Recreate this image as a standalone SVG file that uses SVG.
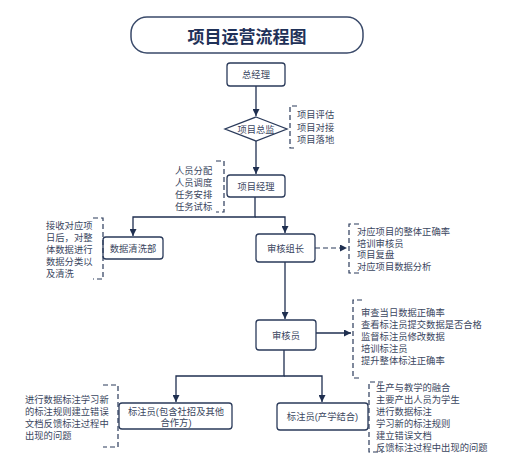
<svg xmlns="http://www.w3.org/2000/svg" width="530" height="471" viewBox="0 0 530 471">
<defs>
<marker id="ah" viewBox="0 0 10 10" refX="10" refY="5" markerWidth="7" markerHeight="7" markerUnits="userSpaceOnUse" orient="auto">
<path d="M0,0 L10,5 L0,10 z" fill="#1f2f50"/>
</marker>
</defs>
<style>
.box{fill:#fff;stroke:#2a3a5a;stroke-width:1.3}
.ln{fill:none;stroke:#1f2f50;stroke-width:1.3}
.dash{fill:none;stroke:#2a3a5a;stroke-width:1.2;stroke-dasharray:5,3}
.t{font-family:"Liberation Sans","Noto Sans CJK SC",sans-serif;font-size:9.3px;fill:#3a4660}
.c{text-anchor:middle}
.title{font-family:"Liberation Sans","Noto Sans CJK SC",sans-serif;font-size:17px;font-weight:bold;fill:#1f3158;text-anchor:middle}
</style>
<rect width="530" height="471" fill="#fff"/>
<g id="connectors">
<path class="ln" d="M256,86 V116" marker-end="url(#ah)"/>
<path class="ln" d="M256,141 V174" marker-end="url(#ah)"/>
<path class="ln" d="M255,197 V217 H133 V236" marker-end="url(#ah)"/>
<path class="ln" d="M255,217 H285 V233" marker-end="url(#ah)"/>
<path class="ln" d="M285,262 V319" marker-end="url(#ah)"/>
<path class="dash" d="M315,248 H347" marker-end="url(#ah)"/>
<path class="ln" d="M316,333 H351" marker-end="url(#ah)"/>
<path class="ln" d="M284,350 V376 H176 V402" marker-end="url(#ah)"/>
<path class="ln" d="M284,376 H322 V402" marker-end="url(#ah)"/>
</g>
<g id="title">
<rect x="131" y="17" width="232" height="36" rx="16" fill="#fff" stroke="#3a4a6a" stroke-width="1.5"/>
<text class="title" x="247" y="43">项目运营流程图</text>
</g>
<g id="zongjingli">
<rect class="box" x="227" y="63" width="58" height="23" rx="3"/>
<text class="t c" x="256" y="78">总经理</text>
</g>
<g id="xiangmuzongjian">
<path class="box" d="M256,117 L287,129 L256,141 L225,129 Z"/>
<text class="t c" x="256" y="132.5">项目总监</text>
</g>
<g id="note-zongjian">
<path class="dash" d="M297,106 H290 V148 H297"/>
<text class="t" x="297" y="118">项目评估</text>
<text class="t" x="297" y="130.5">项目对接</text>
<text class="t" x="297" y="143">项目落地</text>
</g>
<g id="xiangmujingli">
<rect class="box" x="227" y="175" width="58" height="22" rx="3"/>
<text class="t c" x="256" y="189.5">项目经理</text>
</g>
<g id="note-jingli">
<path class="dash" d="M216,161 H224 V212 H216"/>
<text class="t" x="175" y="174">人员分配</text>
<text class="t" x="175" y="186">人员调度</text>
<text class="t" x="175" y="198">任务安排</text>
<text class="t" x="175" y="210">任务试标</text>
</g>
<g id="shujuqingxi">
<rect class="box" x="103" y="237" width="60" height="22" rx="3"/>
<text class="t c" x="133" y="251.5">数据清洗部</text>
</g>
<g id="note-qingxi">
<path class="dash" d="M93,218 H103 V279 H93"/>
<text class="t" x="46" y="229">接收对应项</text>
<text class="t" x="46" y="241">日后，对整</text>
<text class="t" x="46" y="253">体数据进行</text>
<text class="t" x="46" y="265">数据分类以</text>
<text class="t" x="46" y="277">及清洗</text>
</g>
<g id="shenhezuzhang">
<rect class="box" x="256" y="234" width="59" height="28" rx="3"/>
<text class="t c" x="285.5" y="251.5">审核组长</text>
</g>
<g id="note-zuzhang">
<path class="dash" d="M359,224 H349 V273 H359"/>
<text class="t" x="357" y="235">对应项目的整体正确率</text>
<text class="t" x="357" y="246.5">培训审核员</text>
<text class="t" x="357" y="258">项目复盘</text>
<text class="t" x="357" y="269.5">对应项目数据分析</text>
</g>
<g id="shenheyuan">
<rect class="box" x="256" y="320" width="60" height="30" rx="3"/>
<text class="t c" x="286" y="338.5">审核员</text>
</g>
<g id="note-shenheyuan">
<path class="dash" d="M362,300 H353 V378 H362"/>
<text class="t" x="361" y="316">审查当日数据正确率</text>
<text class="t" x="361" y="328">查看标注员提交数据是否合格</text>
<text class="t" x="361" y="340">监督标注员修改数据</text>
<text class="t" x="361" y="352">培训标注员</text>
<text class="t" x="361" y="364">提升整体标注正确率</text>
</g>
<g id="biaozhuyuan1">
<rect class="box" x="119" y="403" width="113" height="26" rx="3"/>
<text class="t c" x="176" y="414.5">标注员(包含社招及其他</text>
<text class="t c" x="176" y="425.5">合作方)</text>
</g>
<g id="note-biaozhu1">
<path class="dash" d="M103,385 H118 V447 H103"/>
<text class="t" x="25" y="403">进行数据标注学习新</text>
<text class="t" x="25" y="415">的标注规则建立错误</text>
<text class="t" x="25" y="427">文档反馈标注过程中</text>
<text class="t" x="25" y="439">出现的问题</text>
</g>
<g id="biaozhuyuan2">
<rect class="box" x="277" y="403" width="91" height="27" rx="3"/>
<text class="t c" x="322.5" y="420">标注员(产学结合)</text>
</g>
<g id="note-biaozhu2">
<path class="dash" d="M383,382 H369 V452 H383"/>
<text class="t" x="376" y="391">生产与教学的融合</text>
<text class="t" x="376" y="403">主要产出人员为学生</text>
<text class="t" x="376" y="415">进行数据标注</text>
<text class="t" x="376" y="427">学习新的标注规则</text>
<text class="t" x="376" y="439">建立错误文档</text>
<text class="t" x="376" y="451">反馈标注过程中出现的问题</text>
</g>
</svg>
